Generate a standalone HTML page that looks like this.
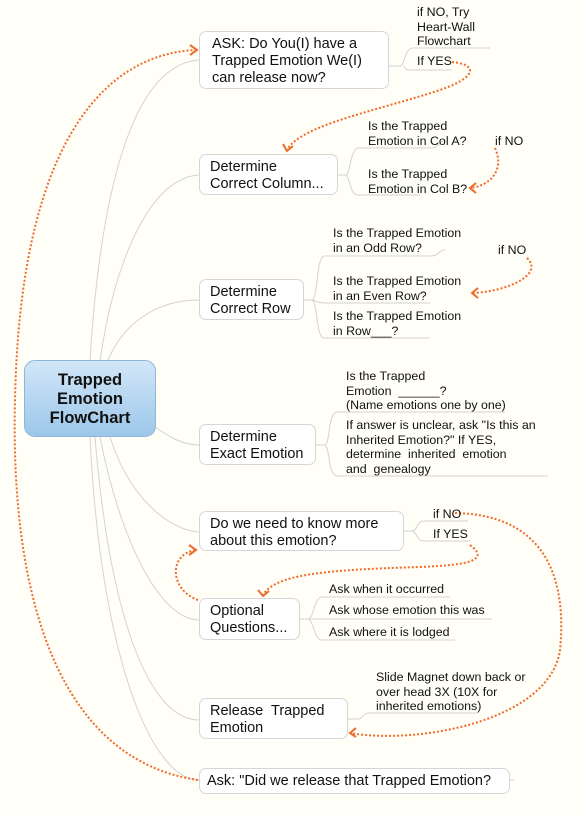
<!DOCTYPE html>
<html><head><meta charset="utf-8"><style>
body{margin:0;background:#fffef7;}
#m{position:relative;width:586px;height:817px;overflow:hidden;background:#fffef7;font-family:"Liberation Sans",Arial,sans-serif;color:#111;}
.b{position:absolute;background:#fff;border:1px solid #d6d6d6;border-radius:7px;font-size:14.5px;line-height:17px;padding:4px 0 0 10px;box-sizing:border-box;white-space:nowrap;}
.t{position:absolute;font-size:12.4px;line-height:14.5px;white-space:nowrap;}
svg{position:absolute;left:0;top:0;}
#root{position:absolute;left:24px;top:360px;width:132px;height:77px;border-radius:11px;border:1px solid #8fb6d8;background:linear-gradient(#d2e6f8,#9cc7ea);box-sizing:border-box;text-align:center;font-weight:bold;font-size:16.5px;line-height:19px;padding-top:10px;}
</style></head><body>
<div id="m">
<svg width="586" height="817">
<g fill="none" stroke="#d3d3d3" stroke-width="1">
<path d="M90,360 C100,200 130,65 199,60"/>
<path d="M100,360 C115,260 150,178 199,175"/>
<path d="M108,360 C125,320 160,300 199,300"/>
<path d="M140,415 C170,440 185,445 199,445"/>
<path d="M110,437 C130,500 170,530 199,532"/>
<path d="M100,437 C120,540 160,620 199,620"/>
<path d="M95,437 C110,620 150,720 199,720"/>
<path d="M90,437 C100,650 150,780 199,780"/>
<path d="M389,66 H400 C405,66 404,50 412,48 H490"/>
<path d="M404,66 C405,70 408,70 412,70 H452"/>
<path d="M338,175 H346 C350,175 350,150 358,148 H430 C440,148 438,141 445,141"/>
<path d="M346,175 C350,178 350,195 358,195 H420"/>
<path d="M304,300 H312 C318,300 316,258 324,256 H430 C440,256 438,250 445,250"/>
<path d="M312,300 C318,302 318,303 324,303 H430"/>
<path d="M312,300 C318,304 316,338 324,338 H430"/>
<path d="M316,445 H325 C330,445 328,412 337,412 H505"/>
<path d="M325,445 C330,448 328,476 337,476 H548"/>
<path d="M404,531 H412 C418,531 416,521 424,521 H468"/>
<path d="M412,531 C418,533 416,541 424,541 H470"/>
<path d="M300,619 H308 C314,619 314,597 322,597 H450"/>
<path d="M308,619 H492"/>
<path d="M308,619 C314,621 314,640 322,640 H455"/>
<path d="M348,719 H358 C363,719 362,713 370,713 H478"/>
<path d="M510,780 H514"/>
</g>
<g fill="none" stroke="#ef6b2a" stroke-width="2" stroke-dasharray="2,2">
<path d="M198,780 C60,760 10,600 15,400 C20,150 100,55 195,50"/>
<path d="M452,62 C480,65 475,78 440,90 C380,110 300,125 287,150"/>
<path d="M495,148 C505,170 490,186 470,188"/>
<path d="M527,258 C545,275 505,292 472,293"/>
<path d="M455,513 C560,515 565,600 560,650 C550,720 420,745 350,733"/>
<path d="M470,545 C490,560 470,565 420,567 C320,570 275,575 263,595"/>
<path d="M198,600 C170,590 168,555 195,550"/>
</g>
<g fill="none" stroke="#ef6b2a" stroke-width="2">
<path d="M190,45 L197,50 L190,55"/>
<path d="M283,144 L287,151 L293,146"/>
<path d="M476,183 L470,188 L476,193"/>
<path d="M478,288 L472,293 L478,298"/>
<path d="M356,728 L350,733 L356,737"/>
<path d="M258,590 L263,596 L269,591"/>
<path d="M189,545 L196,550 L189,555"/>
</g>
</svg>
<div id="root">Trapped<br>Emotion<br>FlowChart</div>
<div class="b" style="left:199px;top:31px;width:190px;height:58px;padding-left:12px">ASK: Do You(I) have a<br>Trapped Emotion We(I)<br>can release now?</div>
<div class="b" style="left:199px;top:154px;width:139px;height:41px">Determine<br>Correct Column...</div>
<div class="b" style="left:199px;top:279px;width:105px;height:41px">Determine<br>Correct Row</div>
<div class="b" style="left:199px;top:424px;width:117px;height:41px">Determine<br>Exact Emotion</div>
<div class="b" style="left:199px;top:511px;width:205px;height:40px">Do we need to know more<br>about this emotion?</div>
<div class="b" style="left:199px;top:598px;width:101px;height:42px">Optional<br>Questions...</div>
<div class="b" style="left:199px;top:698px;width:149px;height:41px">Release&nbsp; Trapped<br>Emotion</div>
<div class="b" style="left:199px;top:768px;width:311px;height:26px;padding-left:7px">Ask: "Did we release that Trapped Emotion?</div>
<div class="t" style="left:417px;top:5px">if NO, Try<br>Heart-Wall<br>Flowchart</div>
<div class="t" style="left:417px;top:54px">If YES</div>
<div class="t" style="left:368px;top:119px">Is the Trapped<br>Emotion in Col A?</div>
<div class="t" style="left:495px;top:134px">if NO</div>
<div class="t" style="left:368px;top:167px">Is the Trapped<br>Emotion in Col B?</div>
<div class="t" style="left:333px;top:226px">Is the Trapped Emotion<br>in an Odd Row?</div>
<div class="t" style="left:498px;top:243px">if NO</div>
<div class="t" style="left:333px;top:274px">Is the Trapped Emotion<br>in an Even Row?</div>
<div class="t" style="left:333px;top:309px">Is the Trapped Emotion<br>in Row___?</div>
<div class="t" style="left:346px;top:369px">Is the Trapped<br>Emotion &nbsp;______?<br>(Name emotions one by one)</div>
<div class="t" style="left:346px;top:418px">If answer is unclear, ask "Is this an<br>Inherited Emotion?" If YES,<br>determine&nbsp; inherited&nbsp; emotion<br>and&nbsp; genealogy</div>
<div class="t" style="left:433px;top:507px">if NO</div>
<div class="t" style="left:433px;top:527px">If YES</div>
<div class="t" style="left:329px;top:582px">Ask when it occurred</div>
<div class="t" style="left:329px;top:603px">Ask whose emotion this was</div>
<div class="t" style="left:329px;top:625px">Ask where it is lodged</div>
<div class="t" style="left:376px;top:670px">Slide Magnet down back or<br>over head 3X (10X for<br>inherited emotions)</div>
</div>
</body></html>
